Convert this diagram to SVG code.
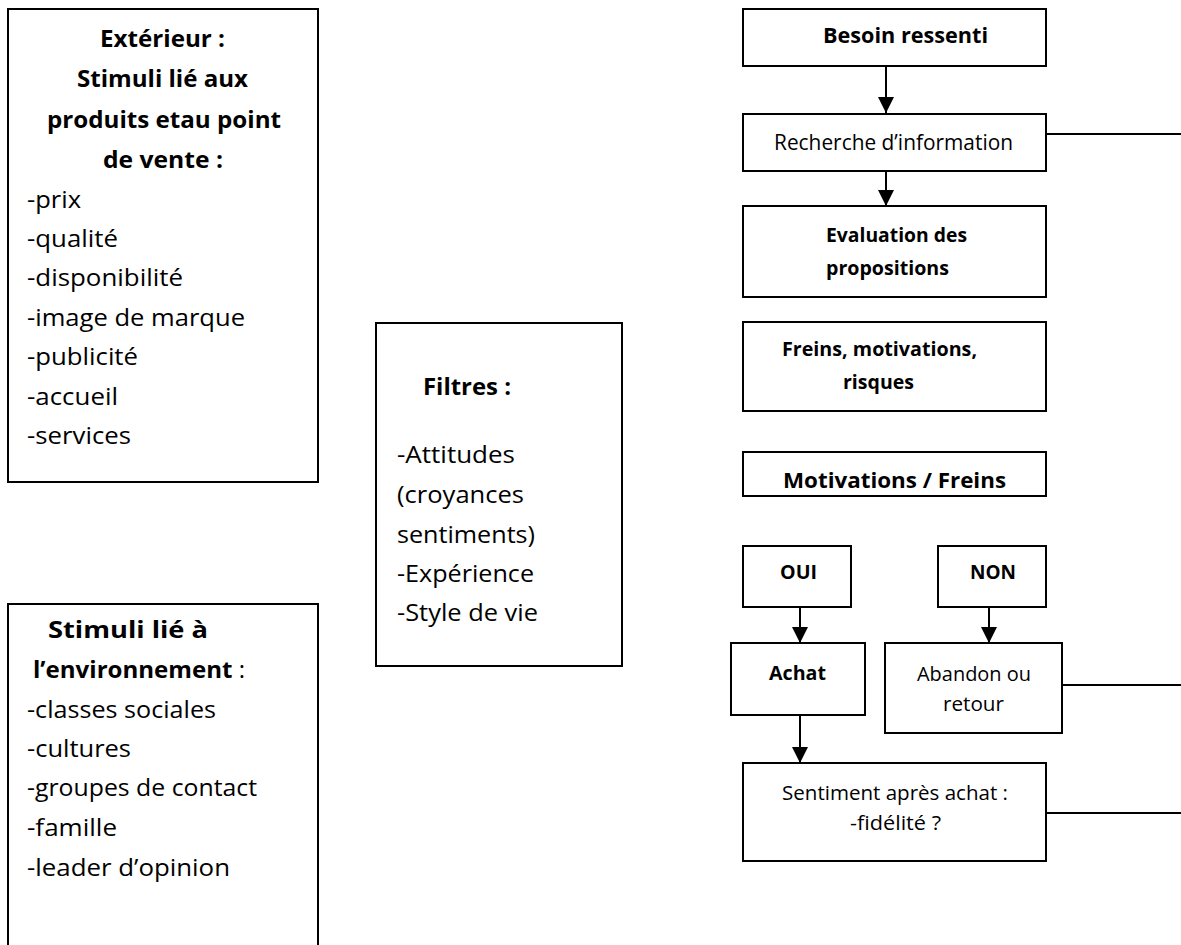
<svg xmlns="http://www.w3.org/2000/svg" width="1181" height="945" viewBox="0 0 1181 945">
  <style>
    .box { fill: #fff; stroke: #000; stroke-width: 2; }
    .edge { fill: none; stroke: #000; stroke-width: 2; }
    text { font-family: "Open Sans", Lato, "Liberation Sans", sans-serif; fill: #000; }
    .b { font-weight: bold; }
    .l { font-size: 24px; }
    .ml { font-size: 22px; }
    .m { font-size: 21px; }
    .s { font-size: 20px; }
  </style>
  <defs>
    <marker id="arrow" markerUnits="userSpaceOnUse" markerWidth="18" markerHeight="16" refX="16" refY="8" orient="auto">
      <path d="M0,0 L16,8 L0,16 Z" fill="#000"/>
    </marker>
  </defs>
  <rect width="1181" height="945" fill="#fff"/>

  <!-- connectors -->
  <g id="connectors">
    <line class="edge" x1="886" y1="66" x2="886" y2="113" marker-end="url(#arrow)"/>
    <line class="edge" x1="886" y1="171" x2="886" y2="206" marker-end="url(#arrow)"/>
    <line class="edge" x1="800" y1="607" x2="800" y2="643" marker-end="url(#arrow)"/>
    <line class="edge" x1="989" y1="607" x2="989" y2="643" marker-end="url(#arrow)"/>
    <line class="edge" x1="800" y1="715" x2="800" y2="763" marker-end="url(#arrow)"/>
    <line class="edge" x1="1046" y1="134" x2="1181" y2="134"/>
    <line class="edge" x1="1062" y1="685" x2="1181" y2="685"/>
    <line class="edge" x1="1046" y1="813" x2="1181" y2="813"/>
  </g>

  <!-- external stimuli -->
  <g id="exterieur">
    <rect class="box" x="8" y="9" width="310" height="473"/>
    <g class="l b">
      <text x="100" y="47" textLength="125" lengthAdjust="spacingAndGlyphs">Extérieur :</text>
      <text x="77" y="87" textLength="171" lengthAdjust="spacingAndGlyphs">Stimuli lié aux</text>
      <text x="47" y="128" textLength="234" lengthAdjust="spacingAndGlyphs">produits etau point</text>
      <text x="103" y="168" textLength="120" lengthAdjust="spacingAndGlyphs">de vente :</text>
    </g>
    <g class="l">
      <text x="27" y="208" textLength="54" lengthAdjust="spacingAndGlyphs">-prix</text>
      <text x="27" y="247" textLength="91" lengthAdjust="spacingAndGlyphs">-qualité</text>
      <text x="27" y="286" textLength="156" lengthAdjust="spacingAndGlyphs">-disponibilité</text>
      <text x="27" y="326" textLength="218" lengthAdjust="spacingAndGlyphs">-image de marque</text>
      <text x="27" y="365" textLength="111" lengthAdjust="spacingAndGlyphs">-publicité</text>
      <text x="27" y="405" textLength="91" lengthAdjust="spacingAndGlyphs">-accueil</text>
      <text x="27" y="444" textLength="104" lengthAdjust="spacingAndGlyphs">-services</text>
    </g>
  </g>

  <!-- environment stimuli -->
  <g id="environnement">
    <rect class="box" x="8" y="604" width="310" height="360"/>
    <g class="l">
      <text class="b" x="48" y="638" textLength="160" lengthAdjust="spacingAndGlyphs">Stimuli lié à</text>
      <text x="33" y="678" textLength="212" lengthAdjust="spacingAndGlyphs"><tspan class="b">l’environnement</tspan> :</text>
      <text x="27" y="718" textLength="189" lengthAdjust="spacingAndGlyphs">-classes sociales</text>
      <text x="27" y="757" textLength="104" lengthAdjust="spacingAndGlyphs">-cultures</text>
      <text x="27" y="796" textLength="230" lengthAdjust="spacingAndGlyphs">-groupes de contact</text>
      <text x="27" y="836" textLength="90" lengthAdjust="spacingAndGlyphs">-famille</text>
      <text x="27" y="876" textLength="203" lengthAdjust="spacingAndGlyphs">-leader d’opinion</text>
    </g>
  </g>

  <!-- filters -->
  <g id="filtres">
    <rect class="box" x="376" y="323" width="246" height="343"/>
    <g class="l">
      <text class="b" x="423" y="395" textLength="88" lengthAdjust="spacingAndGlyphs">Filtres :</text>
      <text x="397" y="463" textLength="118" lengthAdjust="spacingAndGlyphs">-Attitudes</text>
      <text x="397" y="503" textLength="127" lengthAdjust="spacingAndGlyphs">(croyances</text>
      <text x="397" y="543" textLength="138" lengthAdjust="spacingAndGlyphs">sentiments)</text>
      <text x="397" y="582" textLength="137" lengthAdjust="spacingAndGlyphs">-Expérience</text>
      <text x="397" y="621" textLength="141" lengthAdjust="spacingAndGlyphs">-Style de vie</text>
    </g>
  </g>

  <!-- decision process -->
  <g id="besoin">
    <rect class="box" x="743" y="9" width="303" height="57"/>
    <text class="ml b" x="823" y="43" textLength="165" lengthAdjust="spacingAndGlyphs">Besoin ressenti</text>
  </g>
  <g id="recherche">
    <rect class="box" x="743" y="114" width="303" height="57"/>
    <text class="m" x="774" y="150" textLength="239" lengthAdjust="spacingAndGlyphs">Recherche d’information</text>
  </g>
  <g id="evaluation">
    <rect class="box" x="743" y="206" width="303" height="91"/>
    <text class="s b" x="826" y="242" textLength="141" lengthAdjust="spacingAndGlyphs">Evaluation des</text>
    <text class="s b" x="826" y="275" textLength="123" lengthAdjust="spacingAndGlyphs">propositions</text>
  </g>
  <g id="freins">
    <rect class="box" x="743" y="322" width="303" height="89"/>
    <text class="s b" x="782" y="356" textLength="195" lengthAdjust="spacingAndGlyphs">Freins, motivations,</text>
    <text class="s b" x="843" y="389" textLength="71" lengthAdjust="spacingAndGlyphs">risques</text>
  </g>
  <g id="motivations">
    <rect class="box" x="743" y="452" width="303" height="44"/>
    <text class="ml b" x="783" y="488" textLength="223" lengthAdjust="spacingAndGlyphs">Motivations / Freins</text>
  </g>
  <g id="oui">
    <rect class="box" x="743" y="546" width="108" height="61"/>
    <text class="s b" x="780" y="579" textLength="37" lengthAdjust="spacingAndGlyphs">OUI</text>
  </g>
  <g id="non">
    <rect class="box" x="938" y="546" width="108" height="61"/>
    <text class="s b" x="970" y="579" textLength="46" lengthAdjust="spacingAndGlyphs">NON</text>
  </g>
  <g id="achat">
    <rect class="box" x="731" y="643" width="134" height="72"/>
    <text class="s b" x="769" y="680" textLength="57" lengthAdjust="spacingAndGlyphs">Achat</text>
  </g>
  <g id="abandon">
    <rect class="box" x="885" y="643" width="177" height="90"/>
    <text class="s" x="917" y="681" textLength="114" lengthAdjust="spacingAndGlyphs">Abandon ou</text>
    <text class="s" x="943" y="711" textLength="61" lengthAdjust="spacingAndGlyphs">retour</text>
  </g>
  <g id="sentiment">
    <rect class="box" x="743" y="763" width="303" height="98"/>
    <text class="s" x="782" y="800" textLength="226" lengthAdjust="spacingAndGlyphs">Sentiment après achat :</text>
    <text class="s" x="850" y="830" textLength="91" lengthAdjust="spacingAndGlyphs">-fidélité ?</text>
  </g>
</svg>
